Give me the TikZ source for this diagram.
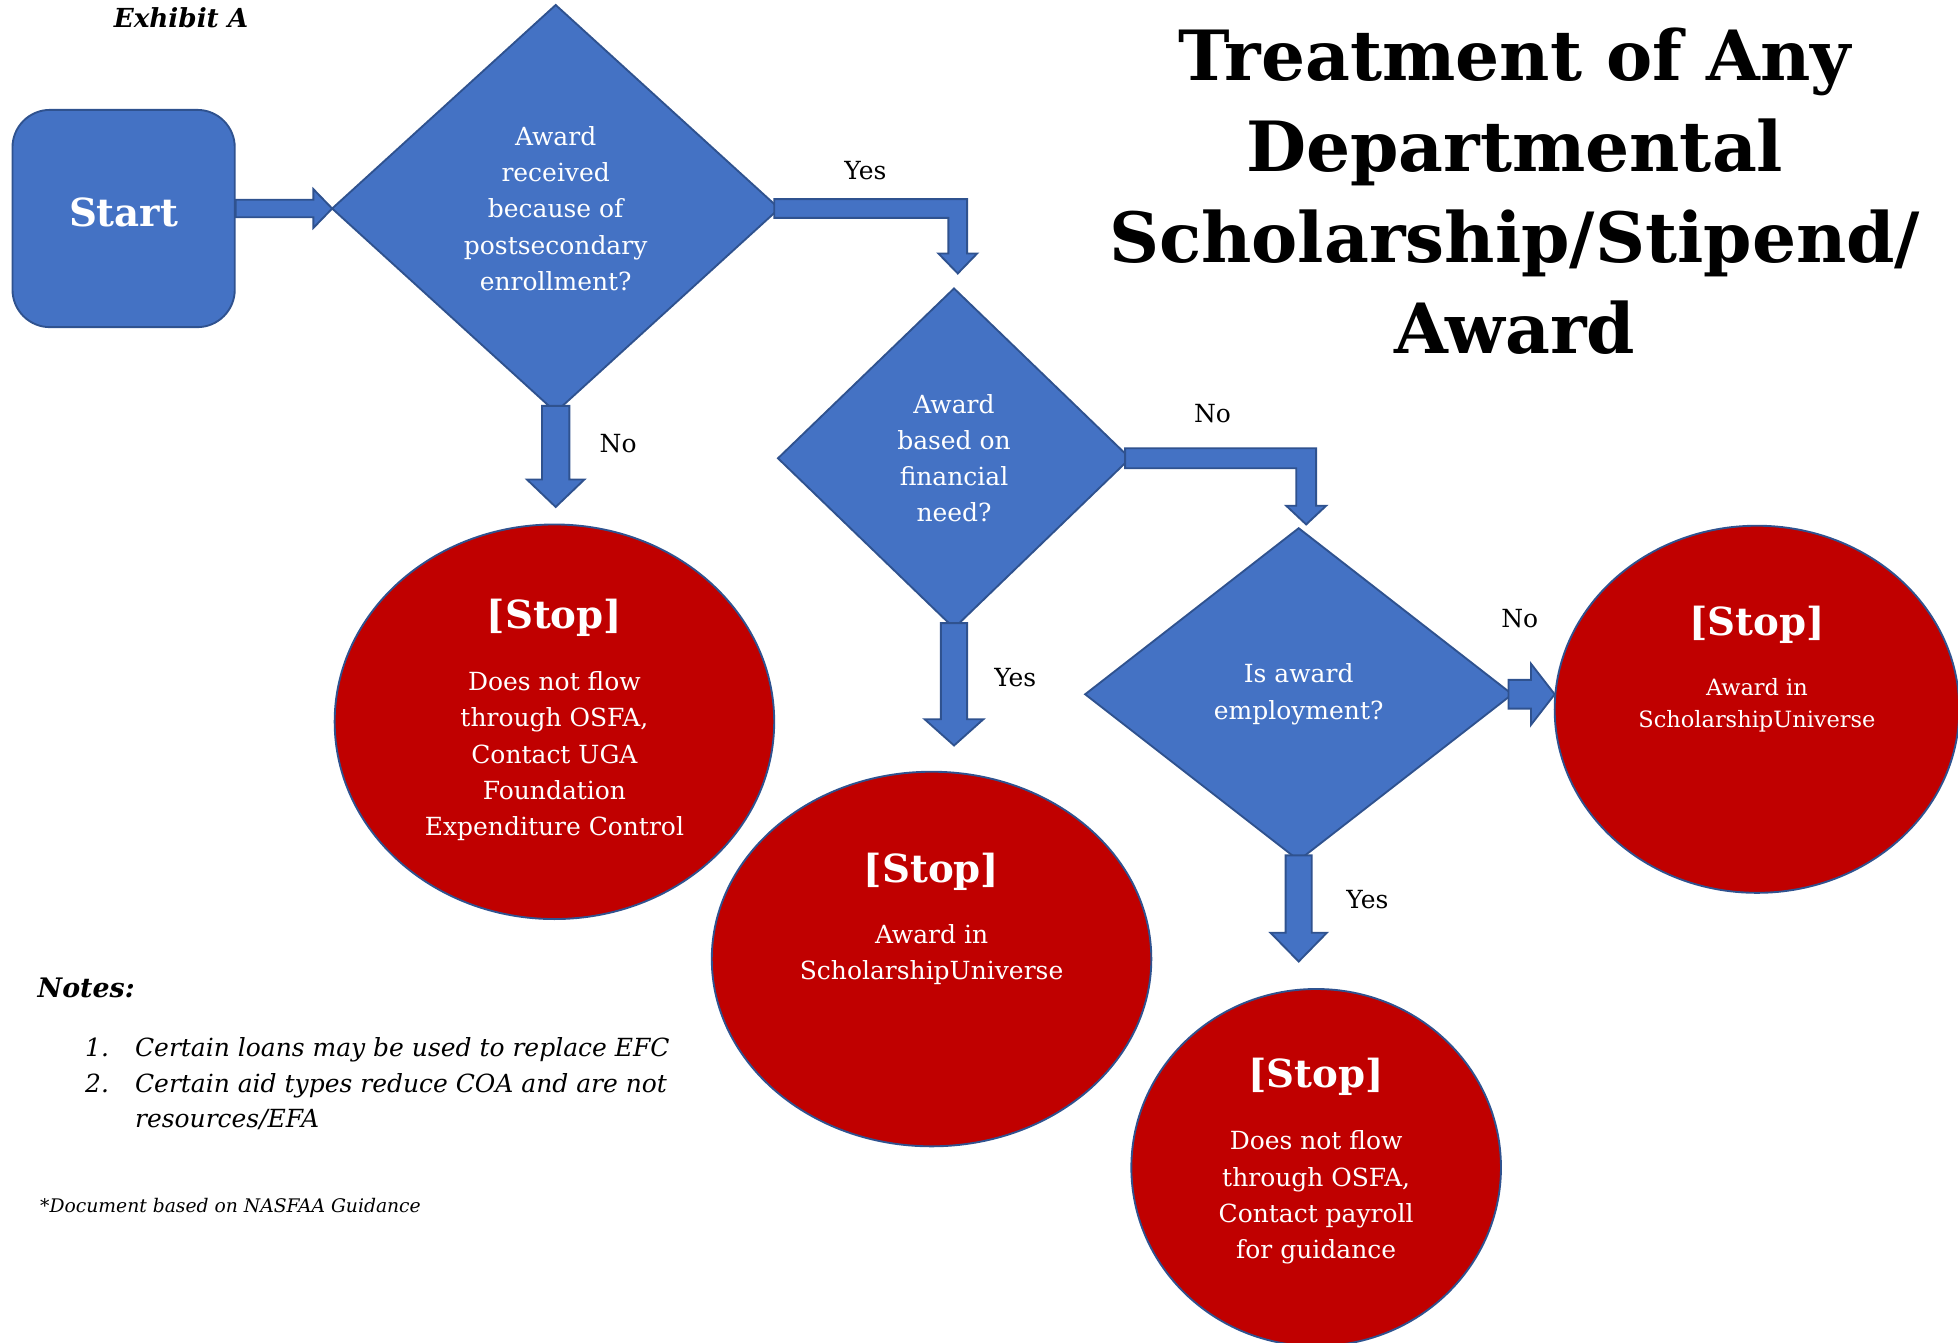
\documentclass[tikz,border=0pt]{standalone}
\usepackage{fontspec}
\setmainfont{DejaVu Serif}
\usetikzlibrary{shapes.geometric,calc}
\definecolor{fblue}{HTML}{4472C4}
\definecolor{dblue}{HTML}{2F528F}
\definecolor{sred}{HTML}{C00000}
\newcommand{\bodyf}{\fontsize{20}{29}\selectfont}
\newcommand{\smallbodyf}{\fontsize{18}{26}\selectfont}
\newcommand{\stopf}{\fontsize{31}{36}\selectfont\bfseries}
\newcommand{\rarrow}[5]{%
 \filldraw[blk] ($(#1)+(0,-#3)$) -- ($(#2)+(-#5,-#3)$) -- ($(#2)+(-#5,-#4)$) -- (#2) -- ($(#2)+(-#5,#4)$) -- ($(#2)+(-#5,#3)$) -- ($(#1)+(0,#3)$) -- cycle;}
\newcommand{\darrow}[5]{%
 \filldraw[blk] ($(#1)+(-#3,0)$) -- ($(#2)+(-#3,-#5)$) -- ($(#2)+(-#4,-#5)$) -- (#2) -- ($(#2)+(#4,-#5)$) -- ($(#2)+(#3,-#5)$) -- ($(#1)+(#3,0)$) -- cycle;}
\newcommand{\bentarrow}[5]{%
 \filldraw[blk] ($(#1)+(0,-#3)$) -- ($(#1 -| #2)+(#3,-#3)$) -- ($(#2)+(#3,-#5)$) -- ($(#2)+(#4,-#5)$) -- (#2) -- ($(#2)+(-#4,-#5)$) -- ($(#2)+(-#3,-#5)$) -- ($(#1 -| #2)+(-#3,#3)$) -- ($(#1)+(0,#3)$) -- cycle;}
\begin{document}
\begin{tikzpicture}[x=1pt,y=-1pt,
 blk/.style={fill=fblue,draw=dblue,line width=1.5pt,line join=miter},
 dia/.style={diamond,fill=fblue,draw=dblue,line width=1.5pt,inner sep=0pt,outer sep=0pt,text=white,align=center,font=\bodyf},
 startbox/.style={rectangle,rounded corners=30pt,fill=fblue,draw=dblue,line width=1.5pt,minimum width=178pt,minimum height=174pt,text=white,font=\fontsize{31}{36}\selectfont\bfseries},
 stopnode/.style={ellipse,fill=sred,draw=dblue,line width=1.5pt,inner sep=0pt,outer sep=0pt},
 stophead/.style={text=white,font=\stopf,inner sep=0pt},
 stopbody/.style={text=white,align=center,font=\bodyf,inner sep=0pt},
 lbl/.style={text=black,font=\bodyf,inner sep=0pt},
 note/.style={text=black,font=\bodyf\itshape,inner sep=0pt,anchor=base west}
]
\useasboundingbox (0,0) rectangle (1568,1075);

% title
\node[font=\fontsize{55.5}{73}\selectfont\bfseries,align=center,inner sep=0pt] (title) at (1213,153)
 {Treatment of Any\\Departmental\\Scholarship/Stipend/\\Award};
\node[font=\fontsize{21}{25}\selectfont\bfseries\itshape,inner sep=0pt,anchor=base] (exh) at (145,22) {Exhibit A};

% nodes
\node[startbox] (start) at (99,175) {\raisebox{10pt}{Start}};
\node[dia,minimum width=358pt,minimum height=326pt] (d1) at (445,167)
 {Award\\received\\because of\\postsecondary\\enrollment?};
\node[dia,minimum width=282pt,minimum height=272pt] (d2) at (764,367)
 {Award\\based on\\financial\\need?};
\node[dia,minimum width=342pt,minimum height=266pt] (d3) at (1040,556)
 {\raisebox{4pt}{Is award}\\\raisebox{4pt}{employment?}};

\node[stopnode,minimum width=352pt,minimum height=316pt] (s1) at (444,578) {};
\node[stopnode,minimum width=352pt,minimum height=300pt] (s2) at (746,768) {};
\node[stopnode,minimum width=296pt,minimum height=286pt] (s3) at (1054,935) {};
\node[stopnode,minimum width=324pt,minimum height=294pt] (s4) at (1407,568) {};

\node[stophead] (s1h) at (444,495) {[Stop]};
\node[stopbody] (s1b) at (444,605.5) {Does not flow\\through OSFA,\\Contact UGA\\Foundation\\Expenditure Control};
\node[stophead] (s2h) at (746,698) {[Stop]};
\node[stopbody] (s2b) at (746,764.5) {Award in\\ScholarshipUniverse};
\node[stophead] (s3h) at (1054,862) {[Stop]};
\node[stopbody] (s3b) at (1054,959) {Does not flow\\through OSFA,\\Contact payroll\\for guidance};
\node[stophead] (s4h) at (1407,500) {[Stop]};
\node[stopbody,font=\smallbodyf] (s4b) at (1407,565) {Award in\\ScholarshipUniverse};

% connectors (block arrows)
\coordinate (a0s) at (start.east |- d1.west);
\rarrow{a0s}{d1.west}{7}{15.5}{15}
\coordinate (a1s) at ($(d1.south)+(0,-5)$);
\coordinate (a1t) at ($(d1.south |- s1.north)+(0,-14)$);
\darrow{a1s}{a1t}{11}{23}{22}
\coordinate (a2s) at ($(d1.east)+(-4,0)$);
\coordinate (a2t) at ($(d2.north)+(3,-12)$);
\bentarrow{a2s}{a2t}{7.5}{15.5}{16}
\coordinate (a3s) at ($(d2.east)+(-4,0)$);
\coordinate (a3t) at ($(d3.north)+(6,-3)$);
\bentarrow{a3s}{a3t}{8}{16}{15}
\coordinate (a4s) at ($(d2.south)+(0,-4)$);
\coordinate (a4t) at ($(d2.south |- s2.north)+(0,-21)$);
\darrow{a4s}{a4t}{10.5}{23.5}{21}
\coordinate (a5s) at ($(d3.east)+(-3,0)$);
\coordinate (a5t) at (d3.east -| s4.west);
\rarrow{a5s}{a5t}{11.5}{24.5}{19}
\coordinate (a6s) at ($(d3.south)+(0,-4)$);
\coordinate (a6t) at ($(d3.south |- s3.north)+(0,-22)$);
\darrow{a6s}{a6t}{10.5}{22.5}{23}

% labels
\node[lbl] (l1) at (693,137) {Yes};
\node[lbl] (l2) at (495,355) {No};
\node[lbl] (l3) at (971,331) {No};
\node[lbl] (l4) at (813,543) {Yes};
\node[lbl] (l5) at (1217,495) {No};
\node[lbl] (l6) at (1095,720) {Yes};

% notes
\node[note,font=\fontsize{21.5}{26}\selectfont\bfseries\itshape] (notes) at (30,799) {Notes:};
\node[note] (n1) at (68,846) {1.};
\node[note] (n1t) at (108,846) {Certain loans may be used to replace EFC};
\node[note] (n2) at (68,875) {2.};
\node[note] (n2t) at (108,875) {Certain aid types reduce COA and are not};
\node[note] (n3t) at (108,903) {resources/EFA};
\node[note,font=\fontsize{15}{18}\selectfont\itshape] (doc) at (32,971) {*Document based on NASFAA Guidance};
\end{tikzpicture}
\end{document}
